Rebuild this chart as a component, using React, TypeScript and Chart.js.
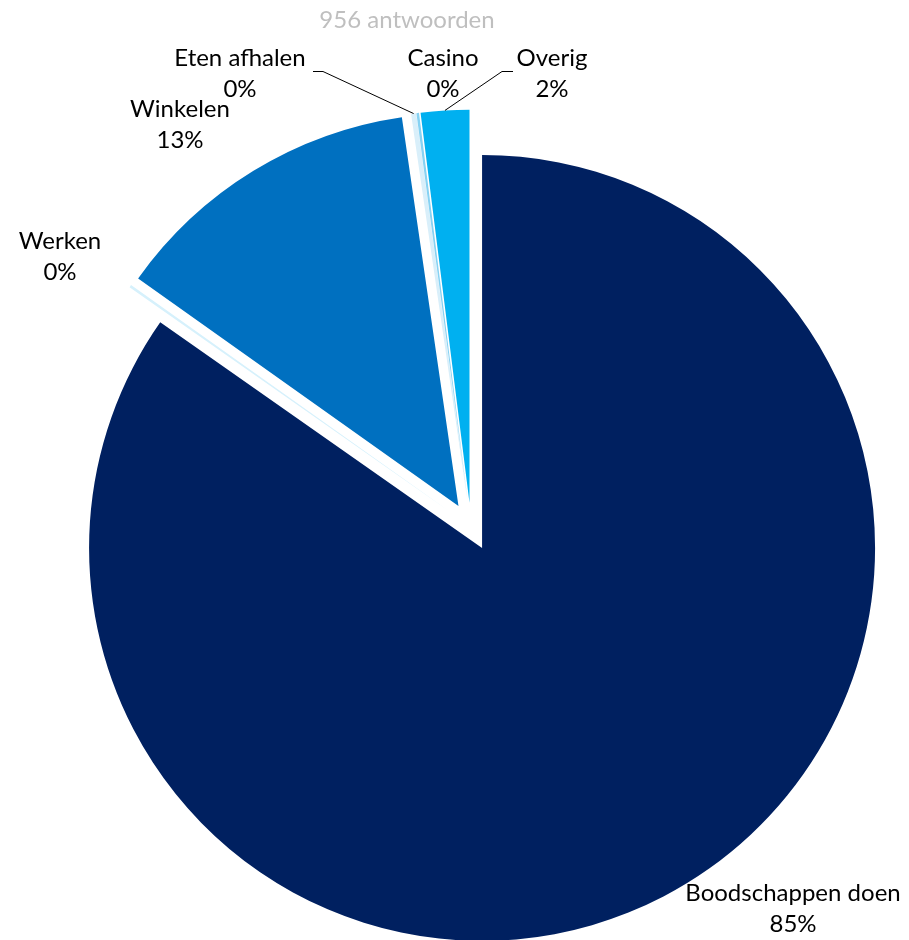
import React, { useEffect, useRef } from "react";
import { Chart, registerables } from "chart.js";
Chart.register(...registerables);

// ---- data ----
const TITLE = "956 antwoorden";
const categories = ["Boodschappen doen", "Werken", "Winkelen", "Eten afhalen", "Casino", "Overig"];
const counts = [810, 1, 123, 2, 1, 19];
const sliceColors = ["#002060", "#D6F1FC", "#0070C0", "#D9EFFA", "#86D2F3", "#00B0F0"];

// ---- layout (label block centres, leader line starts) ----
const FONT = "Lato, 'Open Sans', sans-serif";
const FONT_SIZE = 24;
const LINE_GAP = 31;
const labelLayout = [
  { cx: 793, cy: 909 },
  { cx: 60, cy: 257 },
  { cx: 180, cy: 125 },
  { cx: 240, cy: 74, leader: { x: 313, y: 71, elbow: 323 } },
  { cx: 443, cy: 74 },
  { cx: 552, cy: 74, leader: { x: 513, y: 71, elbow: 502 } },
];
const EXPLODE = 24;
const RADIUS = 393;

const total = counts.reduce((a, b) => a + b, 0);

const explodePlugin = {
  id: "explode",
  afterDatasetsUpdate(chart: any) {
    const meta = chart.getDatasetMeta(0);
    meta.data.forEach((arc: any) => {
      const mid = (arc.startAngle + arc.endAngle) / 2;
      arc.x += Math.cos(mid) * EXPLODE;
      arc.y += Math.sin(mid) * EXPLODE;
    });
  },
};

const labelPlugin = {
  id: "labels",
  afterDraw(chart: any) {
    const ctx = chart.ctx;
    const meta = chart.getDatasetMeta(0);
    ctx.save();
    // title
    ctx.font = `${FONT_SIZE}px ${FONT}`;
    ctx.fillStyle = "#BFBFBF";
    ctx.textAlign = "center";
    ctx.textBaseline = "middle";
    ctx.fillText(TITLE, 407, 20);

    meta.data.forEach((arc: any, i: number) => {
      const lay = labelLayout[i];
      const pct = Math.round((counts[i] / total) * 100) + "%";
      if (lay.leader) {
        const mid = (arc.startAngle + arc.endAngle) / 2;
        const px = arc.x + Math.cos(mid) * arc.outerRadius;
        const py = arc.y + Math.sin(mid) * arc.outerRadius;
        ctx.strokeStyle = "#000000";
        ctx.lineWidth = 1;
        ctx.beginPath();
        ctx.moveTo(lay.leader.x, lay.leader.y + 0.5);
        ctx.lineTo(lay.leader.elbow, lay.leader.y + 0.5);
        ctx.lineTo(px, py);
        ctx.stroke();
      }
      ctx.fillStyle = "#000000";
      ctx.fillText(categories[i], lay.cx, lay.cy - LINE_GAP / 2);
      ctx.fillText(pct, lay.cx, lay.cy + LINE_GAP / 2);
    });
    ctx.restore();
  },
};

export default function App() {
  const ref = useRef<HTMLCanvasElement>(null);
  useEffect(() => {
    if (!ref.current) return;
    const W = 909, H = 940;
    const cx = 471, cy = 526.6;
    const chart = new Chart(ref.current, {
      type: "pie",
      data: {
        labels: categories,
        datasets: [
          {
            data: counts,
            backgroundColor: sliceColors,
            borderWidth: 0,
          },
        ],
      },
      options: {
        responsive: false,
        animation: false,
        radius: RADIUS,
        layout: {
          padding: { left: 2 * cx - W, top: 2 * cy - H, right: 0, bottom: 0 },
        },
        plugins: {
          legend: { display: false },
          tooltip: { enabled: false },
          title: { display: false },
        },
      } as any,
      plugins: [explodePlugin, labelPlugin],
    });
    return () => chart.destroy();
  }, []);
  return (
    <div style={{ position: "fixed", left: 0, top: 0, width: 909, height: 940, background: "#fff" }}>
      <canvas ref={ref} width={909} height={940} style={{ width: 909, height: 940, display: "block" }} />
    </div>
  );
}
